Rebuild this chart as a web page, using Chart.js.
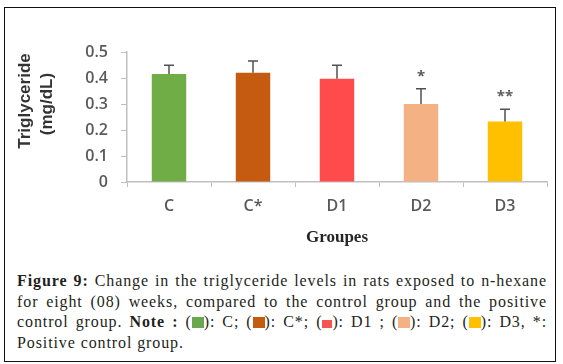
<!DOCTYPE html>
<html>
<head>
<meta charset="utf-8">
<script src="https://cdn.jsdelivr.net/npm/chart.js@4"></script>
<style>
  body { margin: 0; background: #fff; }
  #wrap { position: relative; width: 563px; height: 364px; overflow: hidden; }
  #frame { position: absolute; left: 4px; top: 7px; width: 550px; height: 353px; border: 1px solid #111; }
  #trig { position: absolute; left: 0; top: 0; }
  #caption { position: absolute; left: 17px; top: 271px; width: 530px;
    font-family: "Liberation Serif", serif; font-size: 16px; letter-spacing: 0.9px;
    line-height: 20.7px; color: #231f20; }
  #caption .ln { text-align: justify; text-align-last: justify; white-space: nowrap; }
  #caption .ln.last { text-align-last: left; }
  .sw { display: inline-block; width: 12px; height: 11px; vertical-align: -1px; }
</style>
</head>
<body>
<div id="wrap">
  <canvas id="trig" width="563" height="265"></canvas>
  <div id="caption">
    <div class="ln"><b>Figure 9:</b> Change in the triglyceride levels in rats exposed to n-hexane</div>
    <div class="ln">for eight (08) weeks, compared to the control group and the positive</div>
    <div class="ln">control group. <b>Note :</b> (<span class="sw" style="background:#6aa84f"></span>): C; (<span class="sw" style="background:#c55a11"></span>): C*; (<span class="sw" style="background:#f55454;width:10px;height:8px"></span>): D1 ; (<span class="sw" style="background:#f4b183"></span>): D2; (<span class="sw" style="background:#ffc000"></span>): D3, *:</div>
    <div class="ln last">Positive control group.</div>
  </div>
  <div id="frame"></div>
</div>
<script>
const groups = ['C', 'C*', 'D1', 'D2', 'D3'];
const values = [0.415, 0.42, 0.397, 0.30, 0.233];
const errors = [0.034, 0.045, 0.052, 0.059, 0.047];
const stars = ['', '', '', '*', '**'];
const barColors = ['#70ad47', '#c55a11', '#ff4b4b', '#f4b183', '#ffc000'];
const yTicks = [0, 0.1, 0.2, 0.3, 0.4, 0.5];

const tickFont = { family: 'Open Sans', size: 16, weight: '600' };

// error bars (upper half only), significance stars and the two-line y title
const extras = {
  id: 'extras',
  afterDatasetsDraw(chart) {
    const ctx = chart.ctx;
    const x = chart.scales.x, y = chart.scales.y;
    ctx.save();
    ctx.strokeStyle = '#505050';
    ctx.lineWidth = 1.5;
    values.forEach((v, i) => {
      const px = x.getPixelForValue(i);
      const top = y.getPixelForValue(v + errors[i]);
      ctx.beginPath();
      ctx.moveTo(px, y.getPixelForValue(v));
      ctx.lineTo(px, top);
      ctx.moveTo(px - 5, top);
      ctx.lineTo(px + 5, top);
      ctx.stroke();
      if (stars[i]) {
        ctx.fillStyle = '#595959';
        ctx.font = 'bold 15px Open Sans';
        ctx.textAlign = 'center';
        ctx.textBaseline = 'middle';
        ctx.fillText(stars[i], px, top - 12);
      }
    });
    ctx.translate(25, 101);
    ctx.rotate(-Math.PI / 2);
    ctx.fillStyle = '#333';
    ctx.textAlign = 'center';
    ctx.textBaseline = 'middle';
    ctx.font = 'bold 17px Liberation Sans';
    ctx.fillText('Triglyceride', 0, 0);
    ctx.fillText('(mg/dL)', -3, 22);
    ctx.restore();
  }
};

new Chart(document.getElementById('trig'), {
  type: 'bar',
  data: {
    labels: groups,
    datasets: [{
      data: values,
      backgroundColor: barColors,
      borderWidth: 0,
      barPercentage: 0.41,
      categoryPercentage: 1
    }]
  },
  options: {
    responsive: false,
    animation: false,
    devicePixelRatio: 1,
    layout: { padding: { left: 0, right: 16, top: 52, bottom: 0 } },
    plugins: { legend: { display: false }, tooltip: { enabled: false } },
    scales: {
      x: {
        grid: { drawOnChartArea: false, tickLength: 5, color: '#bfbfbf', offset: true },
        border: { color: '#bfbfbf', width: 1.5 },
        ticks: { color: '#595959', font: tickFont, padding: 10 },
        title: {
          display: true, text: 'Groupes', color: '#262626',
          font: { family: 'Liberation Serif', size: 17, weight: 'bold' },
          padding: { top: 0, bottom: 17 }
        },
        afterFit(s) { s.height = 83; }
      },
      y: {
        min: 0, max: 0.5,
        afterBuildTicks(s) { s.ticks = yTicks.map(v => ({ value: v })); },
        grid: { drawOnChartArea: false, tickLength: 6, color: '#bfbfbf' },
        border: { color: '#bfbfbf', width: 1.5 },
        ticks: { color: '#595959', font: tickFont, padding: 13 },
        afterFit(s) { s.width = 127; }
      }
    }
  },
  plugins: [extras]
});
</script>
</body>
</html>
